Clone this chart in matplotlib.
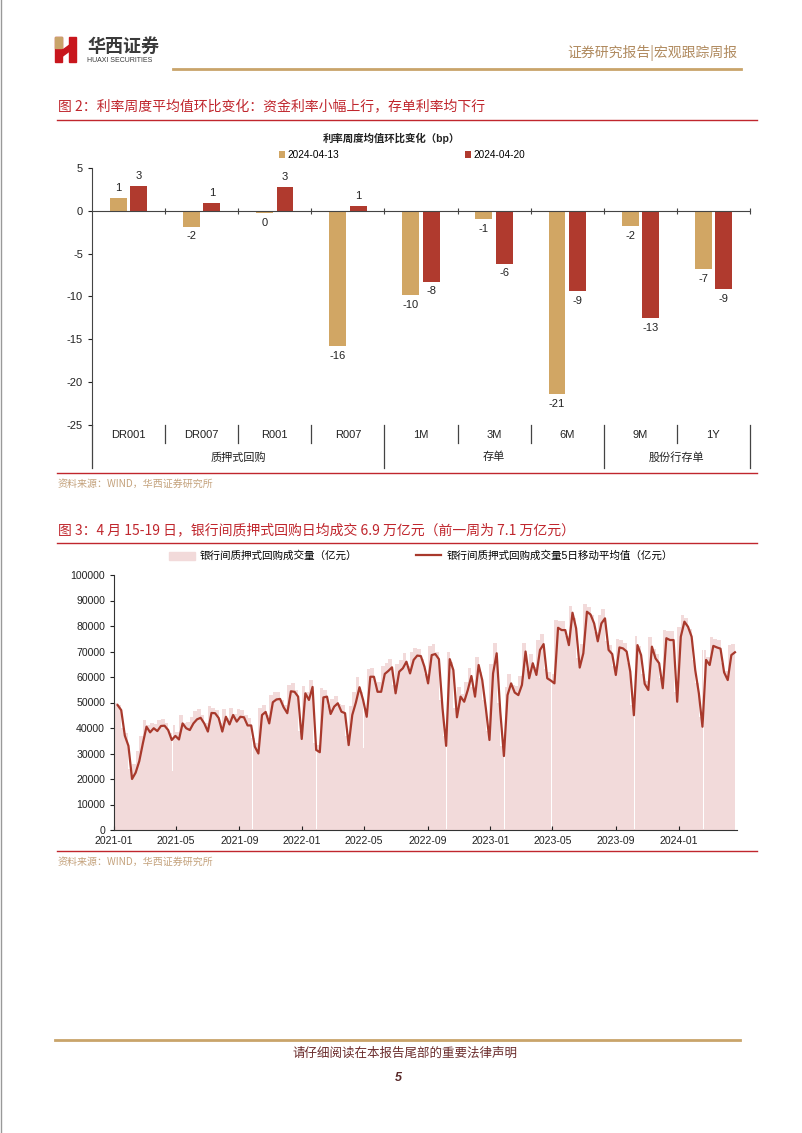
import numpy as np
import pandas as pd
import matplotlib
matplotlib.use('Agg')
import matplotlib.pyplot as plt
import matplotlib.dates as mdates
from matplotlib.patches import Rectangle, Polygon, Patch
from matplotlib.lines import Line2D

plt.rcParams['font.family'] = ['Liberation Sans', 'Noto Sans CJK SC']
plt.rcParams['axes.unicode_minus'] = False

# ---- 图2 数据: 利率周度均值环比变化 (bp)
cats = ['DR001', 'DR007', 'R001', 'R007', '1M', '3M', '6M', '9M', '1Y']
groups = [('质押式回购', 0, 3), ('存单', 4, 6), ('股份行存单', 7, 8)]
wk1_name = '2024-04-13'
wk2_name = '2024-04-20'
wk1 = [1.48, -1.83, -0.25, -15.75, -9.88, -0.97, -21.4, -1.79, -6.8]
wk2 = [2.9, 0.9, 2.8, 0.55, -8.25, -6.15, -9.33, -12.55, -9.18]

# ---- 图3 数据: 银行间质押式回购成交量 (亿元), 每周读数
weeks = pd.date_range('2021-01-08', periods=172, freq='7D')
vol = [50000, 49000, 40000, 38000, 24000, 26000, 31000, 37000, 43000, 41000,
       42000, 41500, 43000, 43500, 42000, 38000, 41000, 38500, 45000, 42000,
       42500, 44500, 46500, 47500, 45000, 42000, 48500, 48000, 47000, 42000,
       47500, 44000, 48000, 45500, 47500, 47000, 45000, 44000, 36000, 34000,
       48000, 49000, 45000, 53000, 54000, 54000, 51000, 49000, 57000, 57500,
       55000, 39000, 56500, 54000, 59000, 34000, 33500, 55500, 55000, 48500,
       51500, 52500, 49500, 49000, 37000, 48500, 54000, 60000, 54000, 48000,
       63000, 63500, 57500, 58000, 64500, 65500, 67000, 57000, 65000, 66500,
       69500, 64500, 70000, 71500, 71000, 67000, 61000, 72000, 73000, 70000,
       51000, 37000, 70000, 66000, 48000, 56000, 53500, 58000, 63500, 56000,
       68000, 62000, 51000, 39000, 65000, 73500, 50000, 33000, 56000, 61000,
       57000, 56500, 60500, 73500, 63000, 69000, 64000, 74500, 77000, 63000,
       62000, 61000, 82500, 82000, 82000, 76000, 88000, 83000, 67500, 73000,
       88500, 87500, 84500, 77500, 84500, 86500, 74000, 72500, 64500, 75000,
       74500, 73500, 65500, 49000, 76000, 72000, 61000, 58500, 75500, 71000,
       69000, 59500, 78500, 78000, 78000, 54000, 79500, 84500, 83000, 79000,
       66500, 57500, 44500, 70500, 68000, 75500, 75000, 74500, 65500, 62500,
       72500, 73000]
ma5 = [49000, 47000, 37000, 33000, 20000, 22500, 27000, 34000, 40500, 38300,
       39900, 38800, 40800, 40900, 39200, 35300, 36900, 35500, 41800, 39900,
       39200, 41800, 43400, 44000, 41800, 38600, 45900, 45800, 43900, 38600,
       44400, 41400, 45100, 42500, 44400, 44200, 41000, 41000, 32700, 30000,
       45100, 46300, 41800, 50100, 51200, 51400, 48100, 45800, 54400, 54200,
       52300, 35700, 53600, 51000, 56100, 31400, 30500, 52000, 52300, 45500,
       48400, 49700, 46400, 45800, 33300, 45100, 50000, 56000, 51000, 44400,
       60100, 60100, 54200, 54200, 61200, 62400, 63800, 53600, 62100, 63400,
       66000, 61400, 66700, 68400, 68200, 64000, 57500, 68600, 69000, 67000,
       47700, 33000, 67000, 62700, 44200, 52300, 50300, 54900, 60400, 52300,
       64700, 58800, 47700, 35300, 61400, 69300, 46400, 29000, 52900, 57500,
       53900, 52900, 56900, 70000, 59500, 65400, 60800, 70600, 72900, 59500,
       58600, 57500, 79300, 78400, 78400, 72500, 85200, 79100, 63700, 69300,
       85600, 84500, 81000, 74000, 81000, 83000, 70600, 69000, 60800, 71600,
       71200, 70000, 62100, 45000, 72500, 68600, 57300, 54900, 71900, 67300,
       65400, 55600, 75200, 74500, 74500, 50300, 75800, 81700, 79700, 75800,
       62700, 53600, 40500, 66700, 64700, 72200, 71600, 71100, 61800, 58800,
       68600, 69700]
# 调休工作日成交很低
low_days = pd.to_datetime(['2021-02-07', '2021-04-25', '2021-09-26', '2022-01-29',
                           '2022-04-30', '2022-10-08', '2023-01-28', '2023-04-30',
                           '2023-10-07', '2024-02-18'])
low_vals = [600, 23000, 500, 500, 32000, 500, 500, 800, 500, 500]

RED = '#C0262D'
GOLD = '#C9A46A'
TAN = '#D1A664'
DRED = '#B03A2E'
PINK = '#F2DADA'
LINE = '#A8392C'

W, H = 802, 1133
fig = plt.figure(figsize=(W / 100, H / 100), dpi=100)


def fx(x):
    return x / W


def fy(y):
    return 1 - y / H


# ---- 页眉
fig.add_artist(Line2D([fx(0.5), fx(0.5)], [0, 1], color='#999999', lw=1))
logo = [Rectangle((fx(55), fy(62)), fx(7), 25 / H, color='#C8161D'),
        Rectangle((fx(55), fy(48)), fx(7), 11 / H, color='#C9A46A'),
        Rectangle((fx(69), fy(62)), fx(7), 25 / H, color='#C8161D'),
        Polygon([(fx(60), fy(52)), (fx(71), fy(44)), (fx(71), fy(50)), (fx(60), fy(58))],
                closed=True, color='#C8161D')]
for p in logo:
    fig.add_artist(p)
fig.text(fx(87), fy(46), '华西证券', fontsize=13, fontweight='bold', color='#3a3a3a',
         family=['Noto Sans CJK SC'], va='center')
fig.text(fx(87), fy(61), 'HUAXI SECURITIES', fontsize=5, color='#3a3a3a', va='center')
fig.text(fx(737), fy(53), '证券研究报告|宏观跟踪周报', fontsize=10, color='#B08A5E',
         family=['Noto Sans CJK SC'], ha='right', va='center')
fig.add_artist(Line2D([fx(173), fx(741)], [fy(69), fy(69)], color=GOLD, lw=2))

# ---- 图2
fig.text(fx(58), fy(107), '图 2：利率周度平均值环比变化：资金利率小幅上行，存单利率均下行',
         fontsize=10, color=RED, family=['Noto Sans CJK SC'], va='center')
fig.add_artist(Line2D([fx(57), fx(757)], [fy(120), fy(120)], color=RED, lw=1))
fig.text(fx(391), fy(138), '利率周度均值环比变化（bp）', fontsize=7.5, fontweight='bold',
         ha='center', va='center', color='#222222')

ax1 = fig.add_axes([fx(92), fy(425), fx(750) - fx(92), (425 - 168) / H])
x = np.arange(len(cats))
bw = 0.23
b1 = ax1.bar(x - 0.14, wk1, bw, color=TAN, label=wk1_name, zorder=2)
b2 = ax1.bar(x + 0.14, wk2, bw, color=DRED, label=wk2_name, zorder=2)
for xs, vals in [(x - 0.14, wk1), (x + 0.14, wk2)]:
    for xi, v in zip(xs, vals):
        up = v >= 0
        ax1.annotate('%d' % round(v), (xi, v), xytext=(0, 3.5 if up else -3.5),
                     textcoords='offset points', ha='center',
                     va='bottom' if up else 'top', fontsize=8, color='#222222')
ax1.set_xlim(-0.5, len(cats) - 0.5)
ax1.set_ylim(-25, 5)
ax1.set_yticks([5, 0, -5, -10, -15, -20, -25])
ax1.tick_params(axis='y', labelsize=8, length=3, colors='#222222')
ax1.spines['top'].set_visible(False)
ax1.spines['right'].set_visible(False)
ax1.spines['bottom'].set_position(('data', 0))
ax1.spines['bottom'].set_color('#444444')
ax1.spines['left'].set_color('#444444')
ax1.set_xticks(np.arange(len(cats)) + 0.5)
ax1.set_xticklabels([])
ax1.tick_params(axis='x', direction='inout', length=4, color='#444444')
ax1.patch.set_alpha(0)

tr = ax1.get_xaxis_transform()
for i, c in enumerate(cats):
    ax1.text(i, -0.039, c, transform=tr, ha='center', va='center', fontsize=8, color='#222222')
long_b = [-0.5] + [g[2] + 0.5 for g in groups]
for b in np.arange(-0.5, len(cats)):
    y_end = -0.167 if b in long_b else -0.07
    ax1.plot([b, b], [0, y_end], transform=tr, color='#444444', lw=0.9, clip_on=False)
for name, a, b in groups:
    ax1.text((a + b) / 2, -0.125, name, transform=tr, ha='center', va='center',
             fontsize=8, color='#222222')
ax1.legend(handles=[b1, b2], loc='center', bbox_to_anchor=(fx(402), fy(155)),
           bbox_transform=fig.transFigure, ncol=2, frameon=False, fontsize=7.2,
           handlelength=0.6, handleheight=0.6, handletextpad=0.3, columnspacing=12.5)

fig.add_artist(Line2D([fx(57), fx(757)], [fy(473), fy(473)], color=RED, lw=1))
fig.text(fx(58), fy(484), '资料来源：WIND，华西证券研究所', fontsize=7.2, color='#C4A27C',
         family=['Noto Sans CJK SC'], va='center')

# ---- 图3
fig.text(fx(58), fy(530), '图 3：4 月 15-19 日，银行间质押式回购日均成交 6.9 万亿元（前一周为 7.1 万亿元）',
         fontsize=10, color=RED, family=['Noto Sans CJK SC'], va='center')
fig.add_artist(Line2D([fx(57), fx(757)], [fy(543), fy(543)], color=RED, lw=1))

ax2 = fig.add_axes([fx(114), fy(830), (736.5 - 114) / W, (830 - 575) / H])
ax2.bar(weeks, vol, width=-7.3, align='edge', color=PINK, linewidth=0, zorder=1)
ax2.bar(low_days, [100000 - v for v in low_vals], bottom=low_vals, width=1.6,
        color='white', linewidth=0, zorder=1.5)
ax2.plot(weeks, ma5, color=LINE, lw=1.6, zorder=3)
ax2.set_xlim(pd.Timestamp('2021-01-01'), pd.Timestamp('2024-04-22'))
ax2.set_ylim(0, 100000)
ax2.set_yticks(np.arange(0, 100001, 10000))
ax2.xaxis.set_major_locator(mdates.MonthLocator(bymonth=[1, 5, 9]))
ax2.xaxis.set_major_formatter(mdates.DateFormatter('%Y-%m'))
ax2.tick_params(axis='x', direction='in', length=3, labelsize=7.6, colors='#222222', pad=4)
ax2.tick_params(axis='y', length=3, labelsize=7.6, colors='#222222')
ax2.spines['top'].set_visible(False)
ax2.spines['right'].set_visible(False)
ax2.spines['bottom'].set_color('#333333')
ax2.spines['left'].set_color('#333333')

h1 = Patch(color=PINK, label='银行间质押式回购成交量（亿元）')
h2 = Line2D([], [], color=LINE, lw=1.6, label='银行间质押式回购成交量5日移动平均值（亿元）')
ax2.legend(handles=[h1, h2], loc='center', bbox_to_anchor=(fx(421), fy(556)),
           bbox_transform=fig.transFigure, ncol=2, frameon=False, fontsize=7.6,
           handlelength=2.4, handleheight=0.8, handletextpad=0.5, columnspacing=5.5)

fig.add_artist(Line2D([fx(57), fx(757)], [fy(851), fy(851)], color=RED, lw=1))
fig.text(fx(58), fy(862), '资料来源：WIND，华西证券研究所', fontsize=7.2, color='#C4A27C',
         family=['Noto Sans CJK SC'], va='center')

# ---- 页脚
fig.add_artist(Line2D([fx(55), fx(740)], [fy(1040), fy(1040)], color=GOLD, lw=2))
fig.text(fx(405), fy(1053), '请仔细阅读在本报告尾部的重要法律声明', fontsize=9, color='#6B2C2C',
         family=['Noto Sans CJK SC'], ha='center', va='center')
fig.text(fx(398), fy(1078), '5', fontsize=9, fontweight='bold', fontstyle='italic',
         color='#5a2a2a', ha='center', va='center')

fig.savefig('out.png', dpi=100)
